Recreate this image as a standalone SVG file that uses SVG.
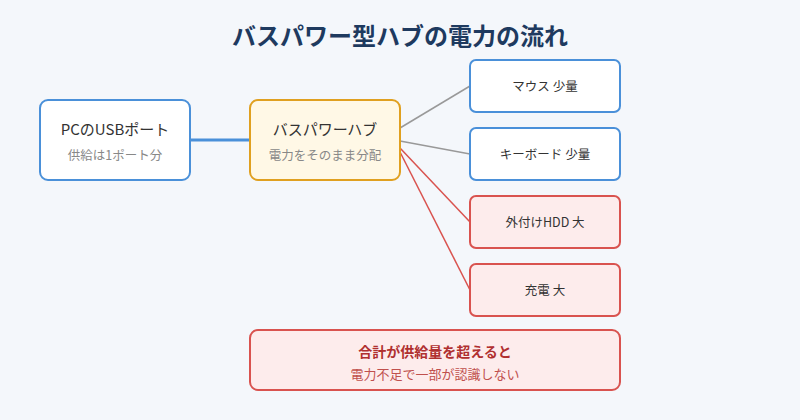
<svg xmlns="http://www.w3.org/2000/svg" width="800" height="420" viewBox="0 0 800 420">
<style>
text{font-family:"Noto Sans CJK JP","Noto Sans",sans-serif;text-anchor:middle}
.blue{fill:#fff;stroke:#4a90d9;stroke-width:2}
.red{fill:#fdecec;stroke:#d9534f;stroke-width:2}
.hub{fill:#fff8e6;stroke:#e0a020;stroke-width:2}
.t{font-size:15px;fill:#333}
.s{font-size:12.5px;fill:#888}
.d{font-size:12.5px;fill:#333}
</style>
<rect width="800" height="420" fill="#f4f7fb"/>
<text x="400" y="45" style="font-size:24px;font-weight:bold;fill:#1e3a5f">バスパワー型ハブの電力の流れ</text>
<g id="connectors" fill="none">
<line x1="190" y1="140" x2="250" y2="140" stroke="#4a90d9" stroke-width="3"/>
<line x1="400" y1="128" x2="470" y2="86" stroke="#999" stroke-width="1.5"/>
<line x1="400" y1="141" x2="470" y2="154" stroke="#999" stroke-width="1.5"/>
<line x1="400" y1="148" x2="470" y2="222" stroke="#d9534f" stroke-width="1.5"/>
<line x1="400" y1="152" x2="470" y2="290" stroke="#d9534f" stroke-width="1.5"/>
</g>
<g id="pc"><rect class="blue" x="40" y="100" width="150" height="80" rx="8"/>
<text class="t" x="115" y="135">PCのUSBポート</text><text class="s" x="115" y="160">供給は1ポート分</text></g>
<g id="hub"><rect class="hub" x="250" y="100" width="150" height="80" rx="8"/>
<text class="t" x="325" y="135">バスパワーハブ</text><text class="s" x="325" y="160">電力をそのまま分配</text></g>
<g id="mouse"><rect class="blue" x="470" y="60" width="150" height="52" rx="6"/><text class="d" x="545" y="91">マウス 少量</text></g>
<g id="kb"><rect class="blue" x="470" y="128" width="150" height="52" rx="6"/><text class="d" x="545" y="159">キーボード 少量</text></g>
<g id="hdd"><rect class="red" x="470" y="196" width="150" height="52" rx="6"/><text class="d" x="545" y="227">外付けHDD 大</text></g>
<g id="charge"><rect class="red" x="470" y="264" width="150" height="52" rx="6"/><text class="d" x="545" y="295">充電 大</text></g>
<g id="warn"><rect class="red" x="250" y="330" width="370" height="60" rx="8"/>
<text x="435" y="357" style="font-size:14px;font-weight:bold;fill:#b03030">合計が供給量を超えると</text>
<text x="435" y="379" style="font-size:13px;fill:#c0504d">電力不足で一部が認識しない</text></g>
</svg>
